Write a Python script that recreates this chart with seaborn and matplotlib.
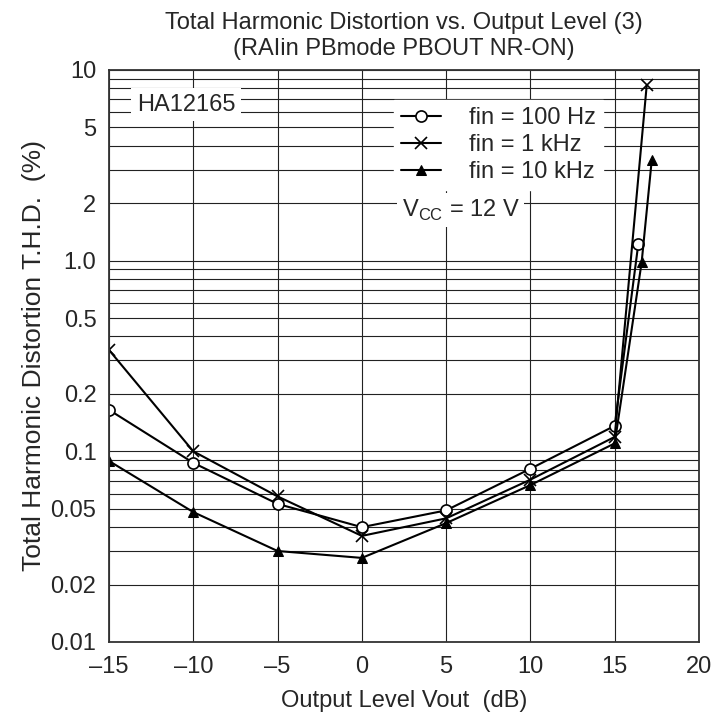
import numpy as np
import pandas as pd
import seaborn as sns
import matplotlib.pyplot as plt
from matplotlib.ticker import LogLocator, NullFormatter, FixedLocator

# data
x_100 = [-15, -10, -5, 0, 5, 10, 15, 16.4]
thd_100 = [0.165, 0.087, 0.053, 0.040, 0.049, 0.081, 0.136, 1.22]

x_1k = [-15, -10, -5, 0, 5, 10, 15, 16.9]
thd_1k = [0.34, 0.100, 0.058, 0.036, 0.0445, 0.071, 0.119, 8.3]

x_10k = [-15, -10, -5, 0, 5, 10, 15, 16.6, 17.2]
thd_10k = [0.089, 0.048, 0.030, 0.0276, 0.042, 0.0665, 0.110, 0.98, 3.37]

x_ticks = [-15, -10, -5, 0, 5, 10, 15, 20]
x_ticklabels = ["\u201315", "\u201310", "\u20135", "0", "5", "10", "15", "20"]
y_ticks = [0.01, 0.02, 0.05, 0.1, 0.2, 0.5, 1.0, 2, 5, 10]
y_ticklabels = ["0.01", "0.02", "0.05", "0.1", "0.2", "0.5", "1.0", "2", "5", "10"]

sns.set_style("white")
plt.rcParams["font.family"] = ["Liberation Sans", "DejaVu Sans"]
plt.rcParams["font.size"] = 17

fig = plt.figure(figsize=(7.16, 7.21), dpi=100)
ax = fig.add_axes([0.1522, 0.1096, 0.824, 0.7934])

line_kw = dict(color="black", linewidth=1.5, sort=False, ax=ax)
sns.lineplot(x=x_100, y=thd_100, marker="o", markersize=8, markerfacecolor="white",
             markeredgecolor="black", markeredgewidth=1.2, label="fin = 100 Hz", **line_kw)
sns.lineplot(x=x_1k, y=thd_1k, marker="x", markersize=8, markeredgecolor="black",
             markeredgewidth=1.2, label="fin = 1 kHz", **line_kw)
sns.lineplot(x=x_10k, y=thd_10k, marker="^", markersize=7, markerfacecolor="black",
             markeredgecolor="black", label="fin = 10 kHz", **line_kw)

ax.set_yscale("log")
ax.set_xlim(-15, 20)
ax.set_ylim(0.01, 10)
ax.set_xticks(x_ticks)
ax.set_xticklabels(x_ticklabels)
ax.set_yticks(y_ticks)
ax.set_yticklabels(y_ticklabels)
ax.yaxis.set_minor_locator(LogLocator(base=10, subs=range(2, 10)))
ax.yaxis.set_minor_formatter(NullFormatter())
ax.xaxis.set_minor_locator(FixedLocator([]))
ax.grid(True, which="both", axis="y", color="#222222", linewidth=0.8)
ax.grid(True, which="major", axis="x", color="#222222", linewidth=0.8)
ax.set_axisbelow(True)
ax.tick_params(axis="both", which="both", length=0, labelsize=17)
ax.tick_params(axis="y", pad=9)
ax.tick_params(axis="x", pad=10)
for sp in ax.spines.values():
    sp.set_color("#333333")
    sp.set_linewidth(1.3)

ax.set_xlabel("Output Level Vout  (dB)", fontsize=17, labelpad=9)
ax.set_ylabel("Total Harmonic Distortion T.H.D.  (%)", fontsize=19, labelpad=3)
ax.set_title("Total Harmonic Distortion vs. Output Level (3)\n(RAIin PBmode PBOUT NR-ON)",
             fontsize=17, pad=11)

leg = ax.legend(loc="upper left", bbox_to_anchor=(0.483, 0.948), borderaxespad=0,
                frameon=True, fancybox=False, framealpha=1, facecolor="white",
                edgecolor="white", handlelength=1.7, handletextpad=1.2,
                labelspacing=0.22, borderpad=0.3, fontsize=17)

ax.text(0.047, 0.939, "HA12165", transform=ax.transAxes, ha="left", va="center",
        fontsize=17, bbox=dict(facecolor="white", edgecolor="none", pad=4))
ax.text(0.496, 0.755, r"V$_\mathregular{CC}$ = 12 V", transform=ax.transAxes,
        ha="left", va="center", fontsize=17,
        bbox=dict(facecolor="white", edgecolor="none", pad=3))

fig.savefig("out.png", dpi=100)
